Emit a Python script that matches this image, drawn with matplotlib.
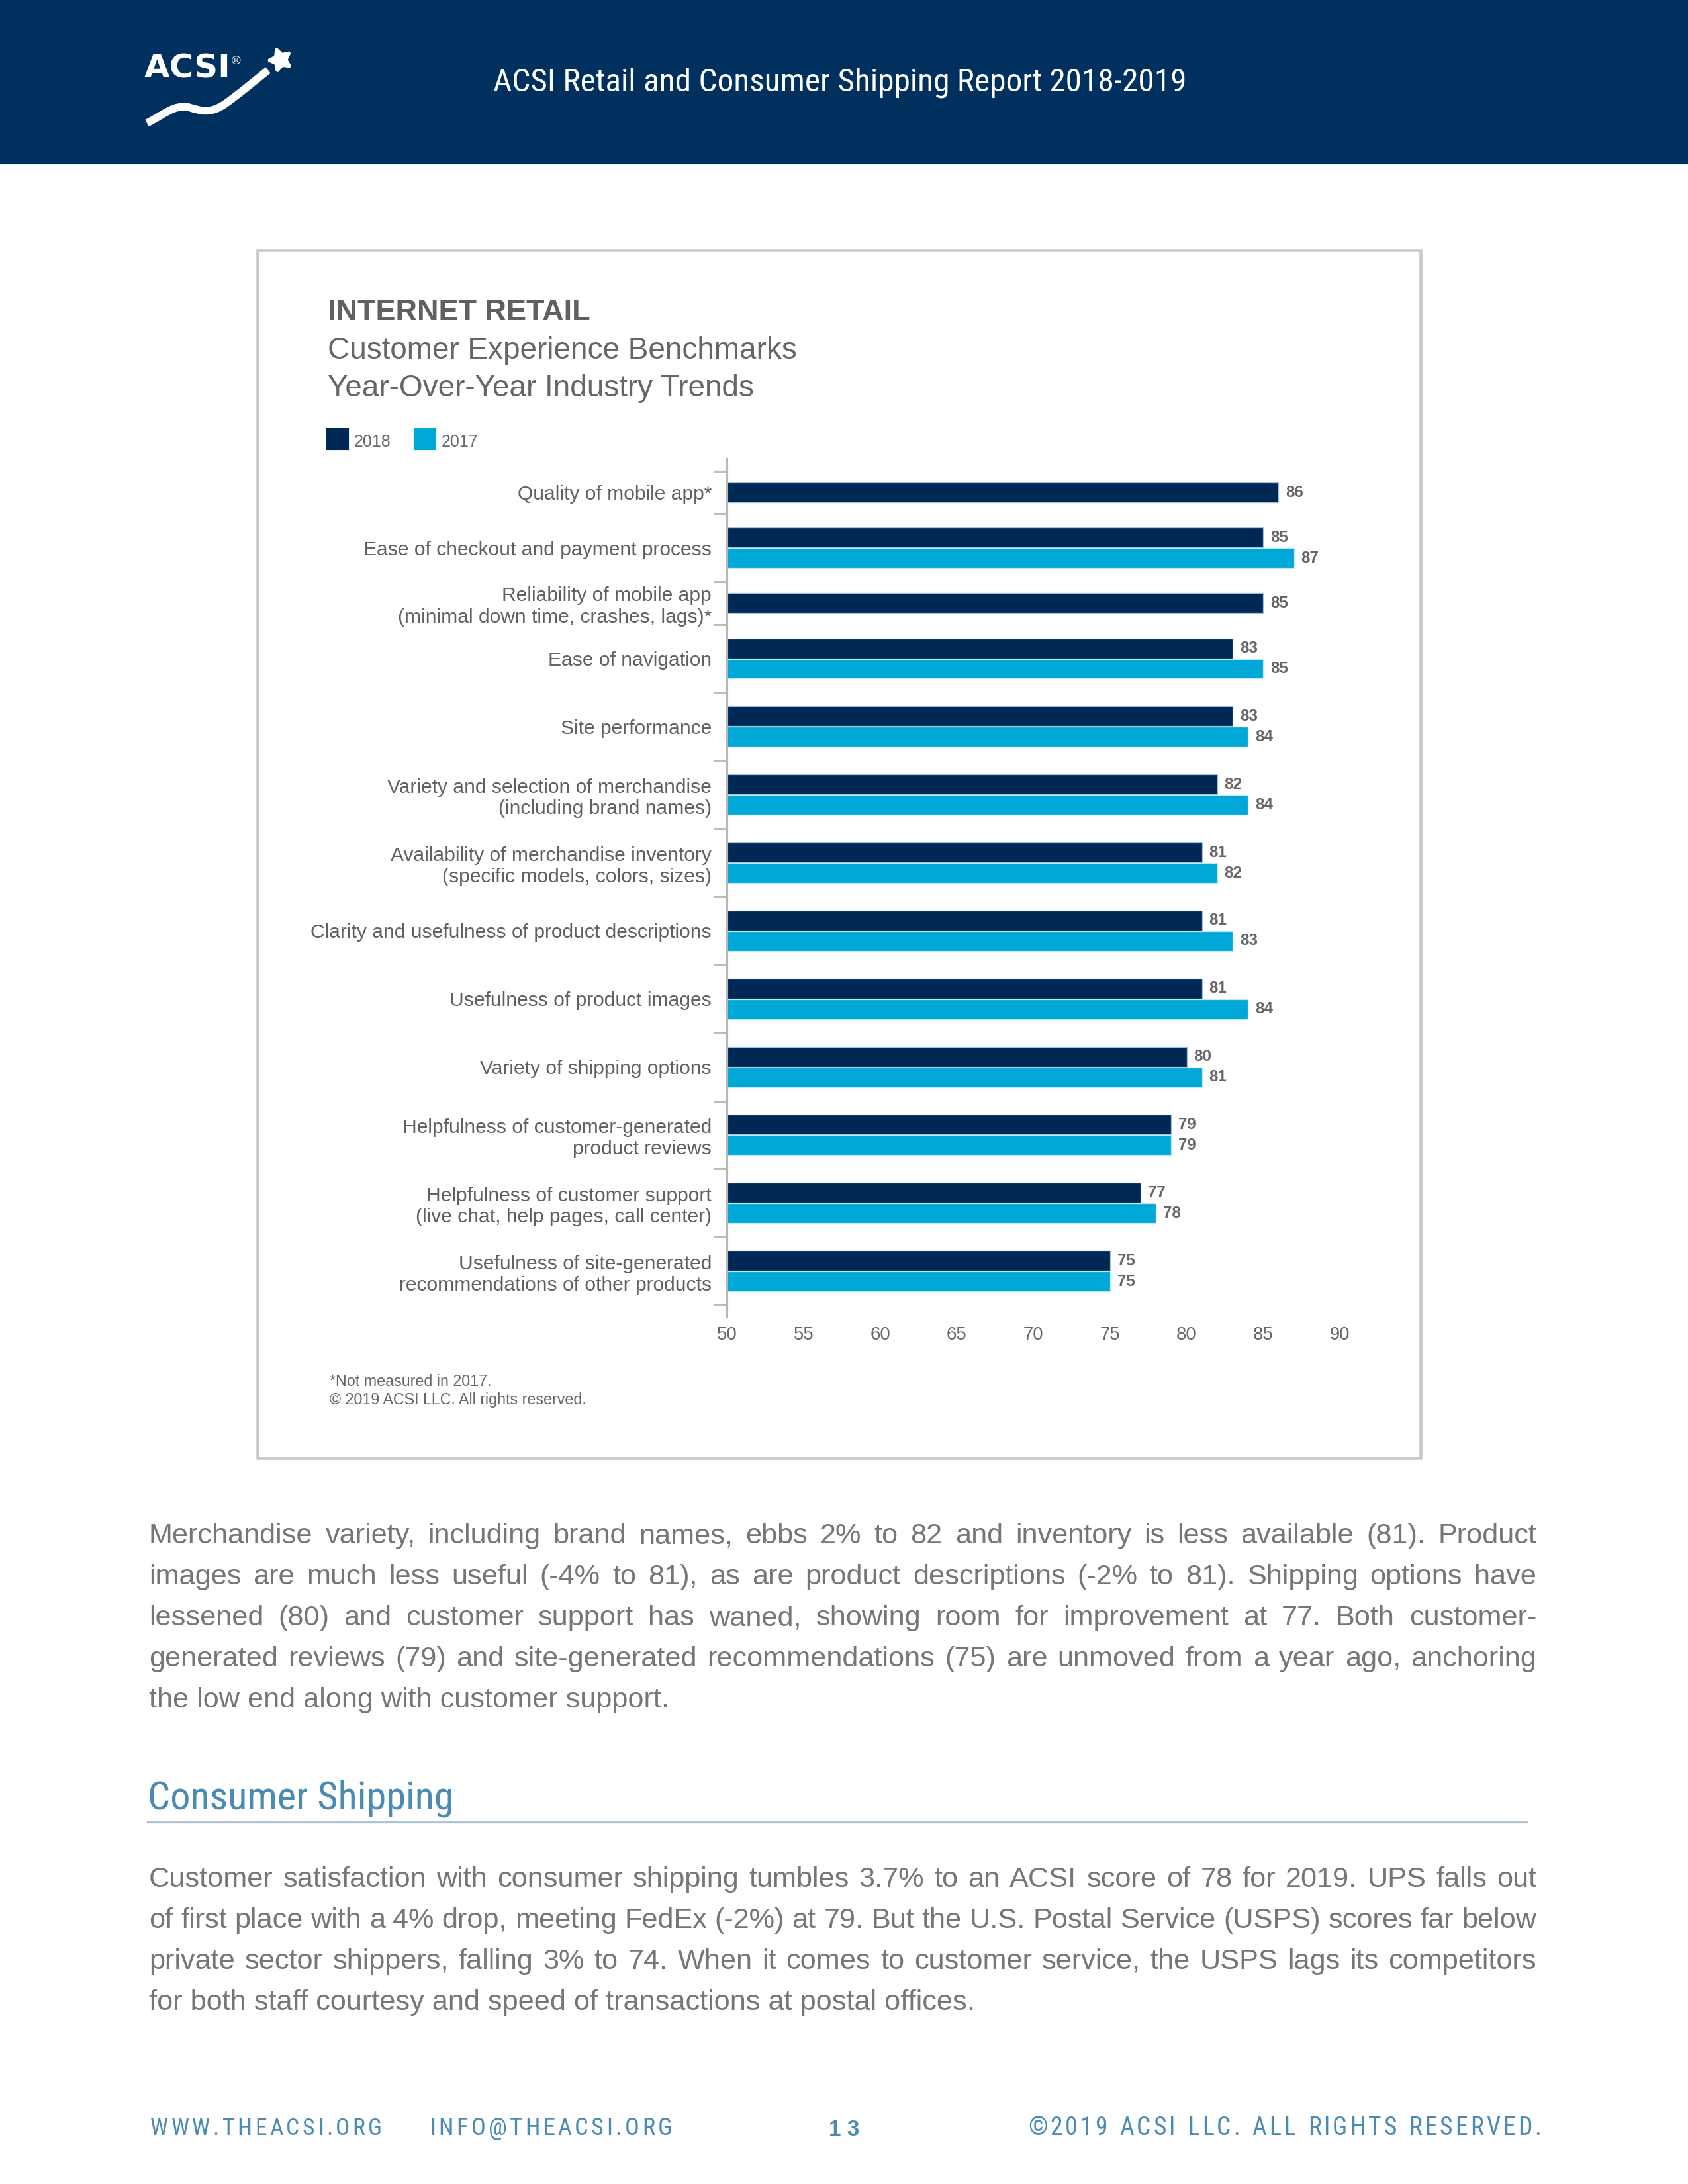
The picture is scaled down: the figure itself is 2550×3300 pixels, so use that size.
import matplotlib
matplotlib.use('Agg')
import matplotlib.pyplot as plt
from matplotlib import font_manager as fm
from matplotlib.patches import Rectangle, PathPatch
from matplotlib.path import Path
import numpy as np

# ---- data ----
categories = [
    'Quality of mobile app*',
    'Ease of checkout and payment process',
    'Reliability of mobile app\n(minimal down time, crashes, lags)*',
    'Ease of navigation',
    'Site performance',
    'Variety and selection of merchandise\n(including brand names)',
    'Availability of merchandise inventory\n(specific models, colors, sizes)',
    'Clarity and usefulness of product descriptions',
    'Usefulness of product images',
    'Variety of shipping options',
    'Helpfulness of customer-generated\nproduct reviews',
    'Helpfulness of customer support\n(live chat, help pages, call center)',
    'Usefulness of site-generated\nrecommendations of other products',
]
scores_2018 = [86, 85, 85, 83, 83, 82, 81, 81, 81, 80, 79, 77, 75]
scores_2017 = [None, 87, None, 85, 84, 84, 82, 83, 84, 81, 79, 78, 75]
x_ticks = [50, 55, 60, 65, 70, 75, 80, 85, 90]
series_names = ['2018', '2017']

para1 = [
    "Merchandise variety, including brand names, ebbs 2% to 82 and inventory is less available (81). Product",
    "images are much less useful (-4% to 81), as are product descriptions (-2% to 81). Shipping options have",
    "lessened (80) and customer support has waned, showing room for improvement at 77. Both customer-",
    "generated reviews (79) and site-generated recommendations (75) are unmoved from a year ago, anchoring",
    "the low end along with customer support.",
]
para2 = [
    "Customer satisfaction with consumer shipping tumbles 3.7% to an ACSI score of 78 for 2019. UPS falls out",
    "of first place with a 4% drop, meeting FedEx (-2%) at 79. But the U.S. Postal Service (USPS) scores far below",
    "private sector shippers, falling 3% to 74. When it comes to customer service, the USPS lags its competitors",
    "for both staff courtesy and speed of transactions at postal offices.",
]

NAVY = '#002855'
CYAN = '#00A8D8'
GRAY = '#666666'
BLUE_TXT = '#4B8BB3'

plt.rcParams['font.family'] = ['Liberation Sans', 'DejaVu Sans']

avail = {f.name for f in fm.fontManager.ttflist}
cond = next((n for n in ['Roboto Condensed', 'Liberation Sans Narrow',
                         'Open Sans Condensed', 'DejaVu Sans Condensed']
             if n in avail), 'Liberation Sans')

W, H = 2550, 3300
fig = plt.figure(figsize=(W / 300, H / 300), dpi=300)
page = fig.add_axes([0, 0, 1, 1], zorder=0)
page.set_xlim(0, W)
page.set_ylim(H, 0)
page.axis('off')
r = fig.canvas.get_renderer()


def fit_text(x, y, s, target, size, **kw):
    t = page.text(x, y, s, fontsize=size, **kw)
    w = t.get_window_extent(r).width
    t.set_fontsize(size * np.clip(target / w, 0.6, 1.15))
    return t


def tracked(x0, x1, y, s, size, **kw):
    ts, ws = [], []
    for ch in s:
        t = page.text(0, y, ch if ch != ' ' else '', fontsize=size, va='baseline', **kw)
        ts.append(t)
        ws.append(t.get_window_extent(r).width if ch != ' ' else size * 1.2)
    nat = sum(ws)
    if nat > (x1 - x0) * 0.82:
        k = (x1 - x0) * 0.82 / nat
        for t in ts:
            t.set_fontsize(size * k)
        ws = [w * k for w in ws]
    track = (x1 - x0 - sum(ws)) / (len(s) - 1)
    x = x0
    for t, w in zip(ts, ws):
        t.set_x(x)
        x += w + track


def justify(lines, x0, x1, y0, pitch, **kw):
    for i, line in enumerate(lines):
        y = y0 + i * pitch
        if i == len(lines) - 1:
            page.text(x0, y, line, va='baseline', **kw)
            continue
        words = line.split(' ')
        ts = [page.text(0, y, w, va='baseline', **kw) for w in words]
        ws = [t.get_window_extent(r).width for t in ts]
        gap = (x1 - x0 - sum(ws)) / (len(words) - 1)
        x = x0
        for t, w in zip(ts, ws):
            t.set_x(x)
            x += w + gap


# ---- header ----
page.add_patch(Rectangle((0, 0), W, 246, color='#00305E', zorder=1))
fit_text(1269, 138, 'ACSI Retail and Consumer Shipping Report 2018-2019', 1048, 12.5,
         family=cond, color='white', ha='center', va='baseline', zorder=2)
fit_text(218, 117, 'ACSI', 131, 11, family='DejaVu Sans', weight='bold',
         color='white', va='baseline', zorder=2)
page.text(357, 92, '®', fontsize=4.5, color='white', ha='center', va='center', zorder=2)
swoosh = Path([(222, 186), (250, 172), (262, 158), (285, 162),
               (305, 168), (318, 172), (340, 157),
               (360, 143), (385, 122), (405, 106)],
              [Path.MOVETO] + [Path.CURVE4] * 9)
page.add_patch(PathPatch(swoosh, fill=False, ec='white', lw=2.8, capstyle='butt', zorder=2))
page.plot([423], [90], marker=(5, 1, 20), ms=8.5, color='white', mec='white', zorder=2)

# ---- chart box and titles ----
page.add_patch(Rectangle((389, 378), 2146 - 389, 2203 - 378, fill=False,
                         ec='#c9c9c9', lw=1.1, zorder=1))
page.text(495, 484, 'INTERNET RETAIL', fontsize=10.8, weight='bold', color='#606060', va='baseline')
page.text(495, 542, 'Customer Experience Benchmarks', fontsize=11, color=GRAY, va='baseline')
page.text(495, 599, 'Year-Over-Year Industry Trends', fontsize=11, color=GRAY, va='baseline')

for x, c, name in [(495, NAVY, series_names[0]), (627, CYAN, series_names[1])]:
    page.add_patch(Rectangle((x, 649), 30, 29, color=c))
    page.text(x + 40, 668, name, fontsize=6, color=GRAY, va='center')

page.text(498, 2094, '*Not measured in 2017.', fontsize=5.6, color=GRAY, va='baseline')
page.text(498, 2122, '\u00a9 2019 ACSI LLC. All rights reserved.', fontsize=5.6, color=GRAY, va='baseline')

# ---- bar chart ----
nbars = [1 + (v is not None) for v in scores_2017]
row_h = np.array([26 + 38.5 * n for n in nbars])
edges = np.concatenate([[0], np.cumsum(row_h)])
centers = (edges[:-1] + edges[1:]) / 2
step, bar_h = 31, 30
y18 = [c - step / 2 if n == 2 else c for c, n in zip(centers, nbars)]
y17 = [c + step / 2 for c, v in zip(centers, scores_2017) if v is not None]
v17 = [v for v in scores_2017 if v is not None]

ax = fig.add_axes([1098 / W, 1 - 1990 / H, (2024 - 1098) / W, (1990 - 693) / H], zorder=2)
ax.patch.set_alpha(0)
b18 = ax.barh(y18, scores_2018, height=bar_h, color=NAVY, ec='#9fbfdc', lw=0.3)
b17 = ax.barh(y17, v17, height=bar_h, color=CYAN, ec='#bfe9f7', lw=0.3)
ax.set_xlim(50, 90)
ax.set_ylim(edges[-1] + 18, -19)
for b in (b18, b17):
    ax.bar_label(b, padding=2.6, fontsize=5.8, weight='bold', color=GRAY)

for s in ['top', 'right', 'bottom']:
    ax.spines[s].set_visible(False)
ax.spines['left'].set_color('#b8b8b8')
ax.spines['left'].set_linewidth(0.75)

ax.set_yticks(edges)
ax.set_yticklabels([])
ax.tick_params(axis='y', which='major', length=4.8, width=0.75, color='#bdbdbd')
ax.set_yticks(centers, minor=True)
ax.set_yticklabels(categories, minor=True, fontsize=7.2, color='#606060')
ax.tick_params(axis='y', which='minor', length=0, pad=5.5)
ax.set_xticks(x_ticks)
ax.set_xticklabels([str(t) for t in x_ticks], fontsize=6.6, color=GRAY)
ax.tick_params(axis='x', length=0, pad=3.4)

# ---- body text ----
body = dict(family=['Liberation Sans', 'DejaVu Sans'], fontsize=10.4, color='#767676')
justify(para1, 225, 2321, 2332, 62, **body)
fit_text(223, 2733, 'Consumer Shipping', 463, 16.4, family=cond, color=BLUE_TXT, va='baseline')
page.plot([223, 2306], [2753, 2753], color='#AFC4D3', lw=0.8)
justify(para2, 225, 2321, 2851, 62, **body)

# ---- footer ----
tracked(227, 577, 3226, 'WWW.THEACSI.ORG', 10.4, family=cond, color=BLUE_TXT)
tracked(649, 1015, 3226, 'INFO@THEACSI.ORG', 10.4, family=cond, color=BLUE_TXT)
tracked(1553, 2328, 3226, '\u00a92019 ACSI LLC. ALL RIGHTS RESERVED.', 10.4, family=cond, color=BLUE_TXT)
page.text(1275, 3227, '1 3', fontsize=8, weight='bold', color=BLUE_TXT, ha='center', va='baseline')

fig.savefig('out.png', dpi=300)
